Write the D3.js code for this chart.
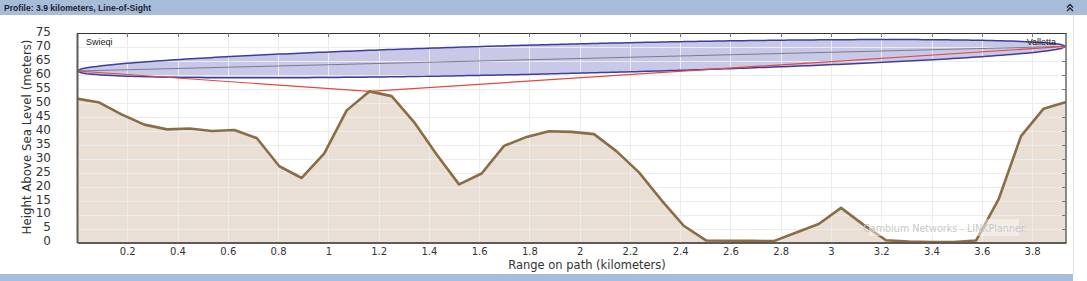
<!DOCTYPE html>
<html>
<head>
<meta charset="utf-8">
<script src="https://cdn.jsdelivr.net/npm/d3@7"></script>
<style>
  html, body { margin: 0; padding: 0; background: #fff; overflow: hidden; }
</style>
</head>
<body>
<div id="chart"></div>
<script>
// ---- data ----
const distances = [0, 0.089, 0.179, 0.268, 0.358, 0.447, 0.537, 0.626, 0.715, 0.805,
  0.894, 0.984, 1.073, 1.163, 1.252, 1.341, 1.431, 1.520, 1.610, 1.699,
  1.789, 1.878, 1.967, 2.057, 2.146, 2.236, 2.325, 2.414, 2.504, 2.593,
  2.683, 2.772, 2.862, 2.951, 3.040, 3.130, 3.219, 3.309, 3.398, 3.488,
  3.577, 3.667, 3.756, 3.846, 3.935];
const heights = [51.5, 50.1, 45.8, 42.2, 40.5, 40.8, 39.9, 40.3, 37.4, 27.3,
  23.1, 31.9, 47.3, 54.1, 52.4, 43.1, 31.5, 20.8, 24.7, 34.6,
  37.8, 39.8, 39.6, 38.8, 32.7, 25.1, 15.2, 6.0, 0.7, 0.6,
  0.6, 0.5, 3.6, 6.6, 12.4, 6.3, 0.8, 0.3, 0.2, 0.2,
  0.7, 15.5, 38.1, 47.9, 50.3];

const siteNames = ["Swieqi", "Valletta"];
const antennaHeights = [61.4, 70.2];   // LOS end points (m)
const fresnelRadius = 5.25;            // mid-path half height (m)
const obstruction = [1.163, 54.1];     // highest point touched by the red line

const xTicks = [0.2, 0.4, 0.6, 0.8, 1, 1.2, 1.4, 1.6, 1.8, 2, 2.2, 2.4, 2.6, 2.8, 3, 3.2, 3.4, 3.6, 3.8];
const yTicks = [0, 5, 10, 15, 20, 25, 30, 35, 40, 45, 50, 55, 60, 65, 70, 75];

// ---- layout ----
const W = 1087, H = 281;
const pathLength = distances[distances.length - 1];

const svg = d3.select("#chart").append("svg")
    .attr("width", W).attr("height", H)
    .style("display", "block")
    .style("font-family", "'DejaVu Sans', sans-serif");

const x = d3.scaleLinear().domain([0, pathLength]).range([77, 1066]);
const y = d3.scaleLinear().domain([0, 75]).range([242.5, 33]);

// panel border on the right
svg.append("line")
    .attr("x1", 1073.5).attr("x2", 1073.5).attr("y1", 15).attr("y2", 274)
    .attr("stroke", "#e2e2e2");

// title bar
svg.append("rect").attr("x", 0).attr("y", 0).attr("width", W).attr("height", 15)
    .attr("fill", "#a6bcd9");
svg.append("text")
    .attr("x", 4).attr("y", 10.5)
    .attr("font-family", "'Liberation Sans', Arial, sans-serif")
    .attr("font-weight", "bold").attr("font-size", 8.6)
    .attr("fill", "#1e2430")
    .text("Profile: 3.9 kilometers, Line-of-Sight");
const chev = svg.append("g").attr("fill", "none").attr("stroke", "#222").attr("stroke-width", 1.3);
[4.5, 8].forEach(dy => chev.append("path").attr("d", `M1067,${dy + 3}L1070,${dy}L1073,${dy + 3}`));

// bottom bar
svg.append("rect").attr("x", 0).attr("y", 274).attr("width", 1073).attr("height", 7)
    .attr("fill", "#a6bcd9");

const plot = svg.append("g");

// terrain fill
const pts = distances.map((d, i) => [d, heights[i]]);
const area = d3.area().x(d => x(d[0])).y0(y(0)).y1(d => y(d[1]));
const line = d3.line().x(d => x(d[0])).y(d => y(d[1]));

plot.append("path").datum(pts).attr("d", area).attr("fill", "#e9dfd5");

// Fresnel ellipse around the line of sight
const los = t => antennaHeights[0] + (antennaHeights[1] - antennaHeights[0]) * t;
const ts = d3.range(0, 1.0001, 0.005);
const upper = ts.map(t => [t * pathLength, los(t) + fresnelRadius * Math.sqrt(Math.max(0, 4 * t * (1 - t)))]);
const lower = ts.map(t => [t * pathLength, los(t) - fresnelRadius * Math.sqrt(Math.max(0, 4 * t * (1 - t)))]);
const ellipse = upper.concat(lower.slice().reverse());
plot.append("path")
    .attr("d", line(ellipse) + "Z")
    .attr("fill", "#c8c8e8");

// grid on top of the fills
const grid = plot.append("g").attr("stroke", "#ececec").attr("stroke-width", 1);
grid.selectAll(".gx").data(xTicks).join("line")
    .attr("x1", d => Math.round(x(d)) + 0.5).attr("x2", d => Math.round(x(d)) + 0.5)
    .attr("y1", y(75)).attr("y2", y(0));
grid.selectAll(".gy").data(yTicks.slice(1, -1)).join("line")
    .attr("x1", x(0)).attr("x2", x(pathLength))
    .attr("y1", d => Math.round(y(d)) + 0.5).attr("y2", d => Math.round(y(d)) + 0.5);

// ellipse outline and LOS
plot.append("path").datum(upper).attr("d", line)
    .attr("fill", "none").attr("stroke", "#3d3d9e").attr("stroke-width", 1.5);
plot.append("path").datum(lower).attr("d", line)
    .attr("fill", "none").attr("stroke", "#3d3d9e").attr("stroke-width", 1.5);
plot.append("path").datum([[0, antennaHeights[0]], [pathLength, antennaHeights[1]]]).attr("d", line)
    .attr("fill", "none").attr("stroke", "#7d7d88").attr("stroke-width", 1);

// red obstruction line
plot.append("path")
    .datum([[0, antennaHeights[0]], obstruction, [pathLength, antennaHeights[1]]])
    .attr("d", line)
    .attr("fill", "none").attr("stroke", "#e8473d").attr("stroke-width", 1.2);

// terrain line
plot.append("path").datum(pts).attr("d", line)
    .attr("fill", "none").attr("stroke", "#8a6d44").attr("stroke-width", 2.6)
    .attr("stroke-linejoin", "round");

// site labels
svg.append("text").attr("x", 86).attr("y", 44.5)
    .attr("font-family", "'Liberation Sans', Arial, sans-serif").attr("font-size", 9)
    .attr("fill", "#222").text(siteNames[0]);
svg.append("text").attr("x", 1056).attr("y", 45)
    .attr("text-anchor", "end")
    .attr("font-family", "'Liberation Sans', Arial, sans-serif").attr("font-size", 9)
    .attr("fill", "#222").text(siteNames[1]);

// watermark
svg.append("rect").attr("x", 869).attr("y", 219).attr("width", 150).attr("height", 17)
    .attr("fill", "#fff").attr("opacity", 0.45);
svg.append("text").attr("x", 944).attr("y", 231.5).attr("text-anchor", "middle")
    .attr("font-size", 9.6).attr("fill", "#c8c8c8")
    .text("Cambium Networks - LINKPlanner");

// frame: top and right with inward ticks
const frame = svg.append("g");
frame.append("line").attr("x1", x(0)).attr("x2", x(pathLength) + 1).attr("y1", 33.5).attr("y2", 33.5)
    .attr("stroke", "#333").attr("stroke-width", 1.2);
frame.append("line").attr("x1", 1066).attr("x2", 1066).attr("y1", 33).attr("y2", 243)
    .attr("stroke", "#666").attr("stroke-width", 1.5);
frame.selectAll(".tt").data(xTicks).join("line")
    .attr("x1", d => Math.round(x(d)) + 0.5).attr("x2", d => Math.round(x(d)) + 0.5)
    .attr("y1", 33).attr("y2", 37).attr("stroke", "#777");
frame.selectAll(".rt").data(yTicks.slice(1, -1)).join("line")
    .attr("x1", 1062).attr("x2", 1066)
    .attr("y1", d => Math.round(y(d)) + 0.5).attr("y2", d => Math.round(y(d)) + 0.5)
    .attr("stroke", "#777");

// axes
const xAxis = svg.append("g").attr("transform", `translate(0,${y(0)})`)
    .call(d3.axisBottom(x).tickValues(xTicks).tickSize(0).tickPadding(5)
      .tickFormat(d => d3.format("~g")(d)));
xAxis.select(".domain").attr("stroke", "#5e5a58").attr("stroke-width", 2);
xAxis.selectAll("text").attr("font-size", 10).attr("fill", "#333")
    .attr("font-family", "'DejaVu Sans', sans-serif");

const yAxis = svg.append("g").attr("transform", `translate(${x(0)},0)`)
    .call(d3.axisLeft(y).tickValues(yTicks).tickSize(0).tickPadding(26));
yAxis.select(".domain").attr("stroke", "#5e5a58").attr("stroke-width", 2);
yAxis.selectAll("text").attr("font-size", 12).attr("fill", "#333")
    .attr("dy", "0.2em")
    .attr("font-family", "'DejaVu Sans', sans-serif");

// axis titles
svg.append("text").attr("x", 587).attr("y", 269).attr("text-anchor", "middle")
    .attr("font-size", 11.5).attr("fill", "#333")
    .text("Range on path (kilometers)");
svg.append("text")
    .attr("transform", "translate(31,137) rotate(-90)")
    .attr("text-anchor", "middle")
    .attr("font-size", 11.8).attr("fill", "#333")
    .text("Height Above Sea Level (meters)");
</script>
</body>
</html>
